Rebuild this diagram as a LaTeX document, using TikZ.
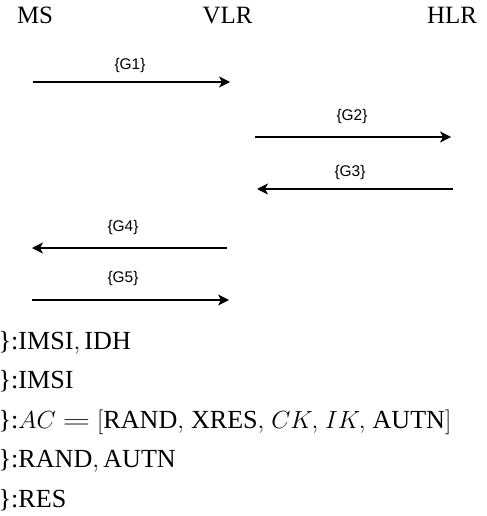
\documentclass[tikz,border=0pt]{standalone}
\usepackage{fontspec}
\setmainfont{Liberation Serif}
\newfontfamily\labelfont{Liberation Sans}
\usetikzlibrary{arrows.meta}

% a wide equals sign and slightly looser list commas for the vector line
\newcommand{\wideeq}{\mathrel{\scalebox{1.55}[1]{$=$}}}
\newcommand{\lsep}{,\mkern2mu}

\tikzset{
  party/.style={font=\fontsize{25}{29}\selectfont, inner sep=0pt, anchor=base},
  msg/.style={line width=1.3bp, -{Stealth[length=11bp, width=11bp, inset=3bp]}},
  msglabel/.style={font=\labelfont\fontsize{15.5}{18}\selectfont, inner sep=0pt},
  legend/.style={font=\fontsize{26.2}{30}\selectfont, inner sep=0pt, anchor=base west}
}

\begin{document}
\begin{tikzpicture}[x=1bp, y=-1bp]
  \useasboundingbox (0,0) rectangle (487,516);

  % participants
  \node[party] (ms)  at (35,23.5)    {MS};
  \node[party] (vlr) at (227.5,23.5) {VLR};
  \node[party] (hlr) at (452,23.5)   {HLR};

  % message end points
  \coordinate (g1s) at (33,82);   \coordinate (g1e) at (230,82);
  \coordinate (g2s) at (255,137); \coordinate (g2e) at (451,137);
  \coordinate (g3s) at (453,189); \coordinate (g3e) at (257,189);
  \coordinate (g4s) at (227,248); \coordinate (g4e) at (32,248);
  \coordinate (g5s) at (32,300);  \coordinate (g5e) at (229,300);

  % messages
  \draw[msg] (g1s) -- (g1e);
  \draw[msg] (g2s) -- (g2e);
  \draw[msg] (g3s) -- (g3e);
  \draw[msg] (g4s) -- (g4e);
  \draw[msg] (g5s) -- (g5e);

  \node[msglabel] (l1) at (130,66)  {\{G1\}};
  \node[msglabel] (l2) at (352,117) {\{G2\}};
  \node[msglabel] (l3) at (350,173) {\{G3\}};
  \node[msglabel] (l4) at (123,228) {\{G4\}};
  \node[msglabel] (l5) at (123,279) {\{G5\}};

  % message contents
  \node[legend] (c1) at (-1.5,349)   {\}:$\mathrm{IMSI}, \mathrm{IDH}$};
  \node[legend] (c2) at (-1.5,388.5) {\}:$\mathrm{IMSI}$};
  \node[legend] (c3) at (-1.5,428)   {\}:$AC \wideeq [\mathrm{RAND}\lsep \mathrm{XRES}\lsep CK\lsep IK\lsep \mathrm{AUTN}]$};
  \node[legend] (c4) at (-1.5,467.5) {\}:$\mathrm{RAND}, \mathrm{AUTN}$};
  \node[legend] (c5) at (-1.5,507)   {\}:$\mathrm{RES}$};
\end{tikzpicture}
\end{document}
